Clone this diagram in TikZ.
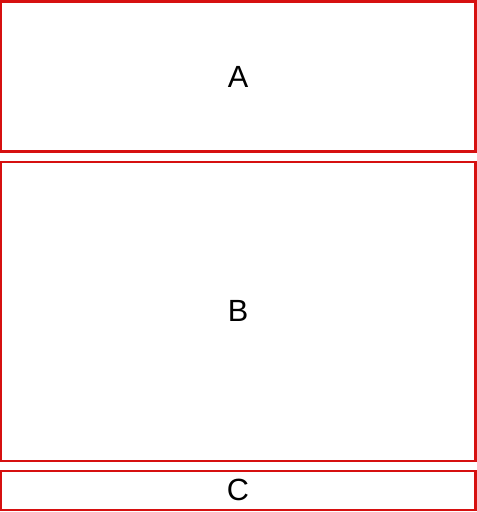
\documentclass[tikz,border=0pt]{standalone}
\usepackage{fontspec}
\setmainfont{Liberation Sans}
\definecolor{boxred}{RGB}{214,16,16}
\begin{document}
\begin{tikzpicture}[x=0.75pt,y=-0.75pt,
  panel/.style={draw=boxred,line width=1.6pt,fill=white},
  lbl/.style={font=\fontsize{23}{26}\selectfont,text=black}]
\useasboundingbox (0,0) rectangle (477,512);
\draw[panel] (1,1.5) rectangle (475.5,151.5);
\draw[panel] (1,162) rectangle (475.5,461);
\draw[panel] (1,471) rectangle (475.5,510);
\node[lbl] (a) at (238,77) {A};
\node[lbl] (b) at (238,311) {B};
\node[lbl] (c) at (238,490) {C};
\end{tikzpicture}
\end{document}
